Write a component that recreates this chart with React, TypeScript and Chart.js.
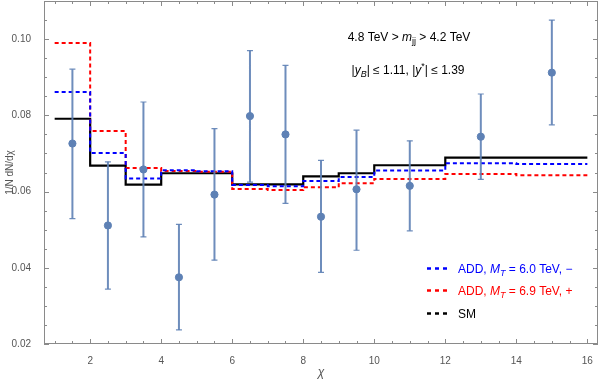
import React, { useEffect, useRef } from "react";
import { Chart, registerables } from "chart.js";

Chart.register(...registerables);

// ---- data ----
const binEdges = [1, 2, 3, 4, 5, 6, 7, 8, 9, 10, 12, 14, 16];
const smValues = [0.0791, 0.0668, 0.0618, 0.0648, 0.0648, 0.0619, 0.0619, 0.064, 0.0648, 0.0669, 0.0689, 0.0689];
const add60Values = [0.0861, 0.0701, 0.0634, 0.0656, 0.0653, 0.0617, 0.0614, 0.0628, 0.0638, 0.0655, 0.0674, 0.0672];
const add69Values = [0.099, 0.0759, 0.0662, 0.0654, 0.0652, 0.0607, 0.0604, 0.0611, 0.0622, 0.0633, 0.0646, 0.0643];

const dataChi = [1.5, 2.5, 3.5, 4.5, 5.5, 6.5, 7.5, 8.5, 9.5, 11, 13, 15];
const dataValues = [0.0726, 0.0511, 0.0658, 0.0375, 0.0592, 0.0798, 0.075, 0.0534, 0.0606, 0.0615, 0.0744, 0.0912];
const dataHigh = [0.0921, 0.0678, 0.0835, 0.0514, 0.0765, 0.097, 0.0931, 0.0682, 0.0761, 0.0733, 0.0856, 0.105];
const dataLow = [0.0529, 0.0344, 0.0481, 0.0237, 0.042, 0.0625, 0.0569, 0.0388, 0.0446, 0.0497, 0.0632, 0.0775];

const xTicks = [2, 4, 6, 8, 10, 12, 14, 16];
const xTickLabels = ["2", "4", "6", "8", "10", "12", "14", "16"];
const yTicks = [0.02, 0.04, 0.06, 0.08, 0.1];
const yTickLabels = ["0.02", "0.04", "0.06", "0.08", "0.10"];
const xMinorStep = 0.5;
const yMinorStep = 0.005;

const xTitle = "χ";
const yTitle = "1/N dN/dχ";

type Seg = { t: string; i?: boolean; sub?: boolean; sup?: boolean };

const annotationLine1: Seg[] = [
  { t: "4.8 TeV > " },
  { t: "m", i: true },
  { t: "jj", sub: true },
  { t: " > 4.2 TeV" },
];
const annotationLine2: Seg[] = [
  { t: "|" },
  { t: "y", i: true },
  { t: "B", i: true, sub: true },
  { t: "| ≤ 1.11, |" },
  { t: "y", i: true },
  { t: "*", sup: true },
  { t: "| ≤ 1.39" },
];

const legendLabels: Seg[][] = [
  [{ t: "ADD, " }, { t: "M", i: true }, { t: "T", i: true, sub: true }, { t: " = 6.0 TeV, −" }],
  [{ t: "ADD, " }, { t: "M", i: true }, { t: "T", i: true, sub: true }, { t: " = 6.9 TeV, +" }],
  [{ t: "SM" }],
];

const BLUE = "#0000ff";
const RED = "#ff0000";
const BLACK = "#000000";
const POINT = "#5E81B5";
const legendColors = [BLUE, RED, BLACK];

const FONT = '"Liberation Sans", Arial, sans-serif';

function stepData(values: number[]) {
  return binEdges.map((x, i) => ({ x, y: values[Math.min(i, values.length - 1)] }));
}

function drawRich(ctx: CanvasRenderingContext2D, segs: Seg[], x: number, y: number, size: number, color: string, align: "left" | "center") {
  const fontFor = (s: Seg) => `${s.i ? "italic " : ""}${s.sub || s.sup ? Math.round(size * 0.72) : size}px ${FONT}`;
  let w = 0;
  for (const s of segs) {
    ctx.font = fontFor(s);
    w += ctx.measureText(s.t).width;
  }
  let cx = align === "center" ? x - w / 2 : x;
  ctx.fillStyle = color;
  ctx.textAlign = "left";
  ctx.textBaseline = "alphabetic";
  for (const s of segs) {
    ctx.font = fontFor(s);
    const dy = s.sub ? size * 0.28 : s.sup ? -size * 0.38 : 0;
    ctx.fillText(s.t, cx, y + dy);
    cx += ctx.measureText(s.t).width;
  }
}

const framePlugin = {
  id: "frameTicks",
  beforeDatasetsDraw(chart: any) {
    const { ctx, chartArea: a, scales } = chart;
    const xs = scales.x;
    const ys = scales.y;
    ctx.save();
    ctx.strokeStyle = "#8a8a8a";
    ctx.lineWidth = 1;
    ctx.strokeRect(a.left + 0.5, a.top + 0.5, a.right - a.left - 1, a.bottom - a.top - 1);
    ctx.beginPath();
    const isMajor = (v: number, arr: number[], eps: number) => arr.some((m) => Math.abs(m - v) < eps);
    for (let v = 1; v <= 16.0001; v += xMinorStep) {
      const px = Math.round(xs.getPixelForValue(v)) + 0.5;
      const len = isMajor(v, xTicks, 1e-6) ? 5 : 3;
      ctx.moveTo(px, a.bottom);
      ctx.lineTo(px, a.bottom - len);
      ctx.moveTo(px, a.top);
      ctx.lineTo(px, a.top + len);
    }
    for (let v = 0.02; v <= 0.11 + 1e-9; v += yMinorStep) {
      const py = Math.round(ys.getPixelForValue(v)) + 0.5;
      const len = isMajor(v, yTicks, 1e-6) ? 5 : 3;
      ctx.moveTo(a.left, py);
      ctx.lineTo(a.left + len, py);
      ctx.moveTo(a.right, py);
      ctx.lineTo(a.right - len, py);
    }
    ctx.stroke();
    ctx.restore();
  },
  beforeDatasetDraw(chart: any, args: any) {
    if (args.index !== 0) return;
    const { ctx, scales } = chart;
    const xs = scales.x;
    const ys = scales.y;
    ctx.save();
    ctx.strokeStyle = POINT;
    ctx.globalAlpha = 0.9;
    ctx.lineWidth = 2;
    ctx.beginPath();
    dataChi.forEach((c, i) => {
      const px = xs.getPixelForValue(c);
      const hi = ys.getPixelForValue(dataHigh[i]);
      const lo = ys.getPixelForValue(dataLow[i]);
      ctx.moveTo(px, hi);
      ctx.lineTo(px, lo);
    });
    ctx.stroke();
    ctx.lineWidth = 1.2;
    ctx.beginPath();
    dataChi.forEach((c, i) => {
      const px = xs.getPixelForValue(c);
      const hi = ys.getPixelForValue(dataHigh[i]);
      const lo = ys.getPixelForValue(dataLow[i]);
      ctx.moveTo(px - 3, hi);
      ctx.lineTo(px + 3, hi);
      ctx.moveTo(px - 3, lo);
      ctx.lineTo(px + 3, lo);
    });
    ctx.stroke();
    ctx.restore();
  },
  afterDraw(chart: any) {
    const { ctx } = chart;
    ctx.save();
    drawRich(ctx, annotationLine1, 409, 41, 12, "#000", "center");
    drawRich(ctx, annotationLine2, 408, 74, 12, "#000", "center");
    const rowsY = [268.5, 290.5, 313.5];
    legendLabels.forEach((segs, i) => {
      const y = rowsY[i];
      ctx.strokeStyle = legendColors[i];
      ctx.lineWidth = 2.5;
      ctx.setLineDash([4, 4]);
      ctx.beginPath();
      ctx.moveTo(427, y);
      ctx.lineTo(447, y);
      ctx.stroke();
      ctx.setLineDash([]);
      drawRich(ctx, segs, 458, y + 4.3, 12, legendColors[i], "left");
    });
    ctx.restore();
  },
};

export default function App() {
  const canvasRef = useRef<HTMLCanvasElement | null>(null);

  useEffect(() => {
    if (!canvasRef.current) return;
    const chart = new Chart(canvasRef.current, {
      type: "line",
      data: {
        datasets: [
          {
            type: "scatter",
            label: "data",
            data: dataChi.map((x, i) => ({ x, y: dataValues[i] })),
            backgroundColor: POINT,
            borderColor: POINT,
            pointRadius: 3.6,
            pointHoverRadius: 3.6,
            order: 0,
          } as any,
          {
            label: "ADD, MT = 6.0 TeV, −",
            data: stepData(add60Values),
            borderColor: BLUE,
            borderWidth: 2,
            borderDash: [4, 3],
            stepped: "before",
            pointRadius: 0,
            fill: false,
            order: 1,
          },
          {
            label: "ADD, MT = 6.9 TeV, +",
            data: stepData(add69Values),
            borderColor: RED,
            borderWidth: 2,
            borderDash: [4, 3],
            stepped: "before",
            pointRadius: 0,
            fill: false,
            order: 2,
          },
          {
            label: "SM",
            data: stepData(smValues),
            borderColor: BLACK,
            borderWidth: 2.2,
            stepped: "before",
            pointRadius: 0,
            fill: false,
            order: 3,
          },
        ],
      },
      options: {
        animation: false,
        responsive: true,
        maintainAspectRatio: false,
        layout: { autoPadding: false, padding: { top: 1, right: 2, left: 0, bottom: 0 } },
        plugins: {
          legend: { display: false },
          tooltip: { enabled: false },
        },
        scales: {
          x: {
            type: "linear",
            min: 0.7,
            max: 16.3,
            afterBuildTicks: (s: any) => {
              s.ticks = xTicks.map((v) => ({ value: v }));
            },
            afterFit: (s: any) => {
              s.height = 36;
              s.paddingLeft = 0;
              s.paddingRight = 0;
            },
            ticks: {
              callback: (v: any) => xTickLabels[xTicks.indexOf(Number(v))] ?? "",
              font: { size: 10, family: FONT },
              color: "#555",
              padding: 3,
              maxRotation: 0,
              autoSkip: false,
            },
            grid: { display: false },
            border: { display: false },
            title: {
              display: true,
              text: xTitle,
              font: { size: 12, family: FONT, style: "italic" },
              color: "#555",
              padding: { top: 0, bottom: 0 },
            },
          },
          y: {
            type: "linear",
            min: 0.02,
            max: 0.11,
            afterBuildTicks: (s: any) => {
              s.ticks = yTicks.map((v) => ({ value: v }));
            },
            afterFit: (s: any) => {
              s.width = 44;
              s.paddingTop = 0;
              s.paddingBottom = 0;
            },
            ticks: {
              callback: (v: any) => {
                const i = yTicks.findIndex((t) => Math.abs(t - Number(v)) < 1e-9);
                return i >= 0 ? yTickLabels[i] : "";
              },
              font: { size: 10, family: FONT },
              color: "#555",
              padding: 5,
              autoSkip: false,
            },
            grid: { display: false },
            border: { display: false },
            title: {
              display: true,
              text: yTitle,
              font: { size: 10, family: FONT },
              color: "#555",
              padding: { top: 4, bottom: 0 },
            },
          },
        },
      },
      plugins: [framePlugin],
    });
    return () => chart.destroy();
  }, []);

  return (
    <div style={{ position: "absolute", left: 0, top: 0, width: 600, height: 380, background: "#fff" }}>
      <canvas ref={canvasRef} />
    </div>
  );
}
